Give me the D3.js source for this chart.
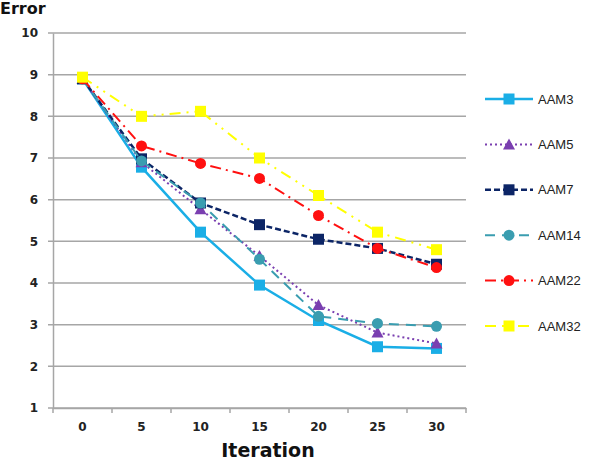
<!DOCTYPE html>
<html>
<head>
<meta charset="utf-8">
<script src="https://cdn.jsdelivr.net/npm/d3@7"></script>
<style>
  body { margin: 0; background: #fff; }
  svg { display: block; }
</style>
</head>
<body>
<div id="chart"></div>
<script>
// data
const iterations = ['0', '5', '10', '15', '20', '25', '30'];
const yTicks = [1, 2, 3, 4, 5, 6, 7, 8, 9, 10];
const seriesNames = ['AAM3', 'AAM5', 'AAM7', 'AAM14', 'AAM22', 'AAM32'];
const aam3 = [8.9, 6.78, 5.22, 3.95, 3.1, 2.47, 2.43];
const aam5 = [8.9, 6.9, 5.77, 4.65, 3.47, 2.81, 2.55];
const aam7 = [8.9, 6.98, 5.92, 5.4, 5.05, 4.83, 4.45];
const aam14 = [8.9, 6.93, 5.92, 4.57, 3.2, 3.03, 2.96];
const aam22 = [8.9, 7.29, 6.87, 6.51, 5.62, 4.83, 4.37];
const aam32 = [8.94, 8.0, 8.12, 7.0, 6.1, 5.22, 4.8];

const seriesValues = [aam3, aam5, aam7, aam14, aam22, aam32];
const styles = [
  { color: '#1aaee6', dash: null, width: 2.5, marker: 'square' },
  { color: '#7a3fb0', dash: '2,3', width: 2, marker: 'triangle' },
  { color: '#0c2566', dash: '6,3', width: 2.5, marker: 'square' },
  { color: '#3a9db0', dash: '10,7', width: 2, marker: 'circle' },
  { color: '#ff1010', dash: '11,5,2,5', width: 2, marker: 'circle' },
  { color: '#ffff00', dash: '11,6,2,6,2,6', width: 2, marker: 'square' }
];

const W = 604, H = 464;
const margin = { top: 33, right: 138, bottom: 56, left: 53 };
const width = W - margin.left - margin.right;
const height = H - margin.top - margin.bottom;

const svg = d3.select('#chart').append('svg')
  .attr('width', W).attr('height', H);

const g = svg.append('g')
  .attr('transform', `translate(${margin.left},${margin.top})`);

const x = d3.scaleBand().domain(iterations).range([0, width]);
const y = d3.scaleLinear().domain([1, 10]).range([height, 0]);

// gridlines
g.append('g').selectAll('line').data(yTicks).enter().append('line')
  .attr('x1', -5).attr('x2', width)
  .attr('y1', d => y(d)).attr('y2', d => y(d))
  .attr('stroke', '#a6a6a6').attr('stroke-width', 1.5);

// y axis
const yAxis = g.append('g').call(d3.axisLeft(y).tickValues(yTicks).tickSize(0).tickPadding(15));
yAxis.select('.domain').attr('stroke', '#a6a6a6').attr('stroke-width', 1.5);
yAxis.selectAll('text')
  .attr('font-family', 'DejaVu Sans, sans-serif').attr('font-weight', 'bold')
  .attr('font-size', 12).attr('fill', '#222');

// x axis
const xAxis = g.append('g').attr('transform', `translate(0,${height})`)
  .call(d3.axisBottom(x).tickSize(0).tickPadding(14));
xAxis.select('.domain').attr('stroke', '#a6a6a6').attr('stroke-width', 1.5);
xAxis.selectAll('text')
  .attr('font-family', 'DejaVu Sans, sans-serif').attr('font-weight', 'bold')
  .attr('font-size', 12).attr('fill', '#222');
// category boundary ticks
g.append('g').selectAll('line').data(iterations.concat(['end'])).enter().append('line')
  .attr('x1', (d, i) => i * x.step()).attr('x2', (d, i) => i * x.step())
  .attr('y1', height).attr('y2', height + 5)
  .attr('stroke', '#a6a6a6').attr('stroke-width', 1.5);

// titles
svg.append('text').attr('x', 0).attr('y', 14)
  .attr('font-family', 'DejaVu Sans, sans-serif').attr('font-weight', 'bold')
  .attr('font-size', 16).attr('fill', '#111').text('Error');
svg.append('text').attr('x', 268).attr('y', 457)
  .attr('text-anchor', 'middle')
  .attr('font-family', 'DejaVu Sans, sans-serif').attr('font-weight', 'bold')
  .attr('font-size', 19).attr('fill', '#111').text('Iteration');

function drawMarker(sel, type, color, cx, cy) {
  if (type === 'square') {
    sel.append('rect').attr('x', cx - 5.5).attr('y', cy - 5.5)
      .attr('width', 11).attr('height', 11).attr('fill', color);
  } else if (type === 'circle') {
    sel.append('circle').attr('cx', cx).attr('cy', cy).attr('r', 5.5).attr('fill', color);
  } else {
    sel.append('path')
      .attr('d', `M${cx},${cy - 6}L${cx + 6},${cy + 5}L${cx - 6},${cy + 5}Z`)
      .attr('fill', color);
  }
}

const line = d3.line()
  .x((d, i) => x(iterations[i]) + x.bandwidth() / 2)
  .y(d => y(d));

seriesValues.forEach((vals, si) => {
  const s = styles[si];
  const sg = g.append('g');
  sg.append('path').datum(vals).attr('d', line)
    .attr('fill', 'none').attr('stroke', s.color).attr('stroke-width', s.width)
    .attr('stroke-dasharray', s.dash);
  vals.forEach((v, i) => {
    drawMarker(sg, s.marker, s.color, x(iterations[i]) + x.bandwidth() / 2, y(v));
  });
});

// legend
const legend = svg.append('g').attr('transform', 'translate(485,99)');
seriesNames.forEach((name, i) => {
  const s = styles[i];
  const ly = i * 45.4;
  const lg = legend.append('g');
  lg.append('line').attr('x1', 0).attr('x2', 48).attr('y1', ly).attr('y2', ly)
    .attr('stroke', s.color).attr('stroke-width', s.width)
    .attr('stroke-dasharray', s.dash);
  drawMarker(lg, s.marker, s.color, 24, ly);
  lg.append('text').attr('x', 53).attr('y', ly + 4.5)
    .attr('font-family', 'Liberation Sans, sans-serif')
    .attr('font-size', 13).attr('fill', '#222').text(name);
});
</script>
</body>
</html>
